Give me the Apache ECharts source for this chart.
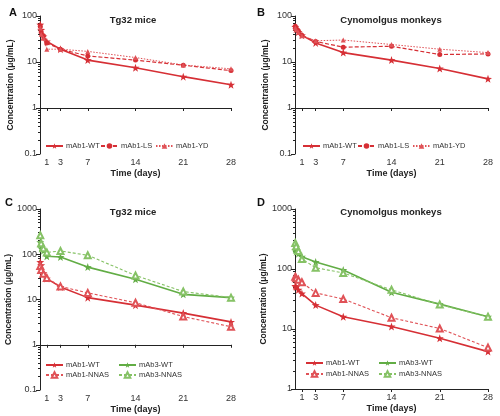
<!DOCTYPE html>
<html><head><meta charset="utf-8">
<script src="https://cdn.jsdelivr.net/npm/echarts@6/dist/echarts.min.js"></script>
<style>html,body{margin:0;padding:0;background:#fff}#c{width:500px;height:416px}</style>
</head><body><div id="c"></div>
<script>
// ---- data ----
var days = [0.04, 0.17, 0.5, 1, 3, 7, 14, 21, 28];
var xTicks = [1, 3, 7, 14, 21, 28];
var A_mAb1_WT = [65, 50, 36, 28, 19, 11, 7.5, 4.8, 3.2];
var A_mAb1_LS = [60, 45, 37, 26, 19, 13.5, 11, 8.5, 6.5];
var A_mAb1_YD = [55, 40, 33, 19, 19, 17, 12.5, 8.6, 7.1];
var B_mAb1_WT = [58, 52, 45, 38, 26, 16, 11, 7.2, 4.3];
var B_mAb1_LS = [60, 55, 47, 38, 28, 21, 22, 14.5, 15];
var B_mAb1_YD = [55, 50, 44, 37, 29, 30, 24, 19, 16];
var C_mAb1_WT = [67, 57, 38, 29, 19, 11, 7.5, 5, 3.2];
var C_mAb1_NNAS = [55, 45, 37, 30, 19.5, 14, 8.5, 4.2, 2.5];
var C_mAb3_WT = [184, 136, 120, 90, 87, 52, 28, 13, 11];
var C_mAb3_NNAS = [263, 175, 135, 110, 118, 95, 34, 15, 11];
var D_mAb1_WT = [52, 50, 45, 39, 25, 16, 11, 7, 4.2];
var D_mAb1_NNAS = [74, 70, 66, 60, 40, 31.6, 15.4, 10.2, 4.9];
var D_mAb3_WT = [207, 194, 180, 160, 131, 96, 41, 26, 16];
var D_mAb3_NNAS = [271, 240, 200, 147, 105, 86, 45, 25.5, 16];
var titles = ['Tg32 mice', 'Cynomolgus monkeys', 'Tg32 mice', 'Cynomolgus monkeys'];
var letters = ['A', 'B', 'C', 'D'];
var yRanges = [[0.1, 100], [0.1, 100], [0.1, 1000], [1, 1000]];

// ---- styles ----
var RED = '#d62f35', RED2 = '#e05257', GREEN = '#62ad45', GREEN2 = '#86c266';
var FONT = 'Liberation Sans, Arial, sans-serif';
var STAR = 'path://M0,-10L2.35,-3.24L9.51,-3.09L3.8,1.24L5.88,8.09L0,4L-5.88,8.09L-3.8,1.24L-9.51,-3.09L-2.35,-3.24Z';
var grids = [
  {left: 40, top: 16, width: 191, height: 138},
  {left: 295, top: 16, width: 193, height: 138},
  {left: 40, top: 209, width: 191, height: 181},
  {left: 295, top: 209, width: 193, height: 180}
];
function pairs(vals) { return vals.map(function (v, i) { return [days[i], v]; }); }
function mk(name, gi, vals, kind) {
  var s = {name: name, type: 'line', xAxisIndex: gi, yAxisIndex: gi * 2, data: pairs(vals),
    animation: false, z: 3};
  var col = kind.green ? GREEN : RED, col2 = kind.green ? GREEN2 : RED2;
  if (kind.t === 'WT') { s.symbol = STAR; s.symbolSize = 8; s.lineStyle = {color: col, width: 1.6, type: 'solid'}; s.itemStyle = {color: col}; }
  if (kind.t === 'LS') { s.symbol = 'circle'; s.symbolSize = 5; s.lineStyle = {color: col, width: 1.2, type: [4, 2]}; s.itemStyle = {color: col}; }
  if (kind.t === 'YD') { s.symbol = 'triangle'; s.symbolSize = 5; s.lineStyle = {color: col2, width: 1, type: [1.5, 1.5]}; s.itemStyle = {color: col2}; }
  if (kind.t === 'NNAS') { s.symbol = 'emptyTriangle'; s.symbolSize = 6; s.lineStyle = {color: col2, width: 1.1, type: [3, 2]}; s.itemStyle = {color: col2, borderColor: col2, borderWidth: 1}; }
  return s;
}
var series = [
  mk('mAb1-WT', 0, A_mAb1_WT, {t: 'WT'}), mk('mAb1-LS', 0, A_mAb1_LS, {t: 'LS'}), mk('mAb1-YD', 0, A_mAb1_YD, {t: 'YD'}),
  mk('mAb1-WT', 1, B_mAb1_WT, {t: 'WT'}), mk('mAb1-LS', 1, B_mAb1_LS, {t: 'LS'}), mk('mAb1-YD', 1, B_mAb1_YD, {t: 'YD'}),
  mk('mAb1-WT', 2, C_mAb1_WT, {t: 'WT'}), mk('mAb1-NNAS', 2, C_mAb1_NNAS, {t: 'NNAS'}),
  mk('mAb3-WT', 2, C_mAb3_WT, {t: 'WT', green: true}), mk('mAb3-NNAS', 2, C_mAb3_NNAS, {t: 'NNAS', green: true}),
  mk('mAb1-WT', 3, D_mAb1_WT, {t: 'WT'}), mk('mAb1-NNAS', 3, D_mAb1_NNAS, {t: 'NNAS'}),
  mk('mAb3-WT', 3, D_mAb3_WT, {t: 'WT', green: true}), mk('mAb3-NNAS', 3, D_mAb3_NNAS, {t: 'NNAS', green: true})
];
var xAxes = [], yAxes = [];
grids.forEach(function (g, i) {
  xAxes.push({type: 'value', gridIndex: i, min: 0, max: 28, name: 'Time (days)', nameLocation: 'middle', nameGap: 15,
    nameTextStyle: {fontFamily: FONT, fontWeight: 'bold', fontSize: 9, color: '#222'},
    axisLine: {lineStyle: {color: '#222', width: 1}}, splitLine: {show: false},
    axisTick: {customValues: xTicks, length: 3, lineStyle: {color: '#222'}},
    axisLabel: {customValues: xTicks, margin: 4, fontFamily: FONT, fontSize: 9, color: '#333'}});
  var r = yRanges[i];
  yAxes.push({type: 'log', logBase: 10, gridIndex: i, min: r[0], max: r[1], position: 'left',
    name: 'Concentration (μg/mL)', nameLocation: 'middle', nameGap: 25, nameRotate: 90,
    nameTextStyle: {fontFamily: FONT, fontWeight: 'bold', fontSize: 8.5, color: '#222'},
    axisLine: {show: true, lineStyle: {color: '#222', width: 1}}, splitLine: {show: false},
    axisTick: {show: true, length: 4, lineStyle: {color: '#222'}},
    axisLabel: {margin: 3, fontFamily: FONT, fontSize: 9, color: '#333', formatter: function (v) { return String(+v.toPrecision(3)); }}});
  var lo = Math.log10(r[0]), hi = Math.log10(r[1]), minor = [];
  for (var d = lo; d < hi; d++) for (var k = 2; k <= 9; k++) minor.push(d + Math.log10(k));
  yAxes.push({type: 'value', gridIndex: i, min: lo, max: hi, position: 'left',
    axisLine: {show: false}, splitLine: {show: false}, axisLabel: {show: false},
    axisTick: {show: true, customValues: minor, length: 2, lineStyle: {color: '#222'}}});
});
var titleArr = [];
var tx = [133, 391, 133, 391], ty = [15, 15, 207, 207];
titles.forEach(function (t, i) {
  titleArr.push({text: t, left: tx[i], top: ty[i], textAlign: 'center', padding: 0,
    textStyle: {fontFamily: FONT, fontWeight: 'bold', fontSize: 9.5, color: '#222'}});
});
var lx = [4, 252, 0, 252], ly = [2, 2, 192, 192];
letters.forEach(function (t, i) {
  titleArr.push({text: t, left: lx[i], top: ly[i], textStyle: {fontFamily: FONT, fontWeight: 'bold', fontSize: 11, color: '#111'}});
});
function lg(name, left, top) {
  return {data: [name], left: left, top: top, itemWidth: 17, itemHeight: 7, itemGap: 4, padding: 0,
    textStyle: {fontFamily: FONT, fontSize: 7.5, color: '#333', padding: [0, 0, 0, -2]}, selectedMode: false};
}
var legends = [
  lg('mAb1-WT', 45, 142), lg('mAb1-LS', 100, 142), lg('mAb1-YD', 155, 142),
  lg('mAb1-WT', 302, 142), lg('mAb1-LS', 357, 142), lg('mAb1-YD', 412, 142),
  lg('mAb1-WT', 45, 361), lg('mAb3-WT', 118, 361), lg('mAb1-NNAS', 45, 371), lg('mAb3-NNAS', 118, 371),
  lg('mAb1-WT', 305, 359), lg('mAb3-WT', 378, 359), lg('mAb1-NNAS', 305, 370), lg('mAb3-NNAS', 378, 370)
];
var chart = echarts.init(document.getElementById('c'), null, {renderer: 'canvas'});
chart.setOption({backgroundColor: '#fff', animation: false, title: titleArr, legend: legends,
  grid: grids, xAxis: xAxes, yAxis: yAxes, series: series});
</script></body></html>
